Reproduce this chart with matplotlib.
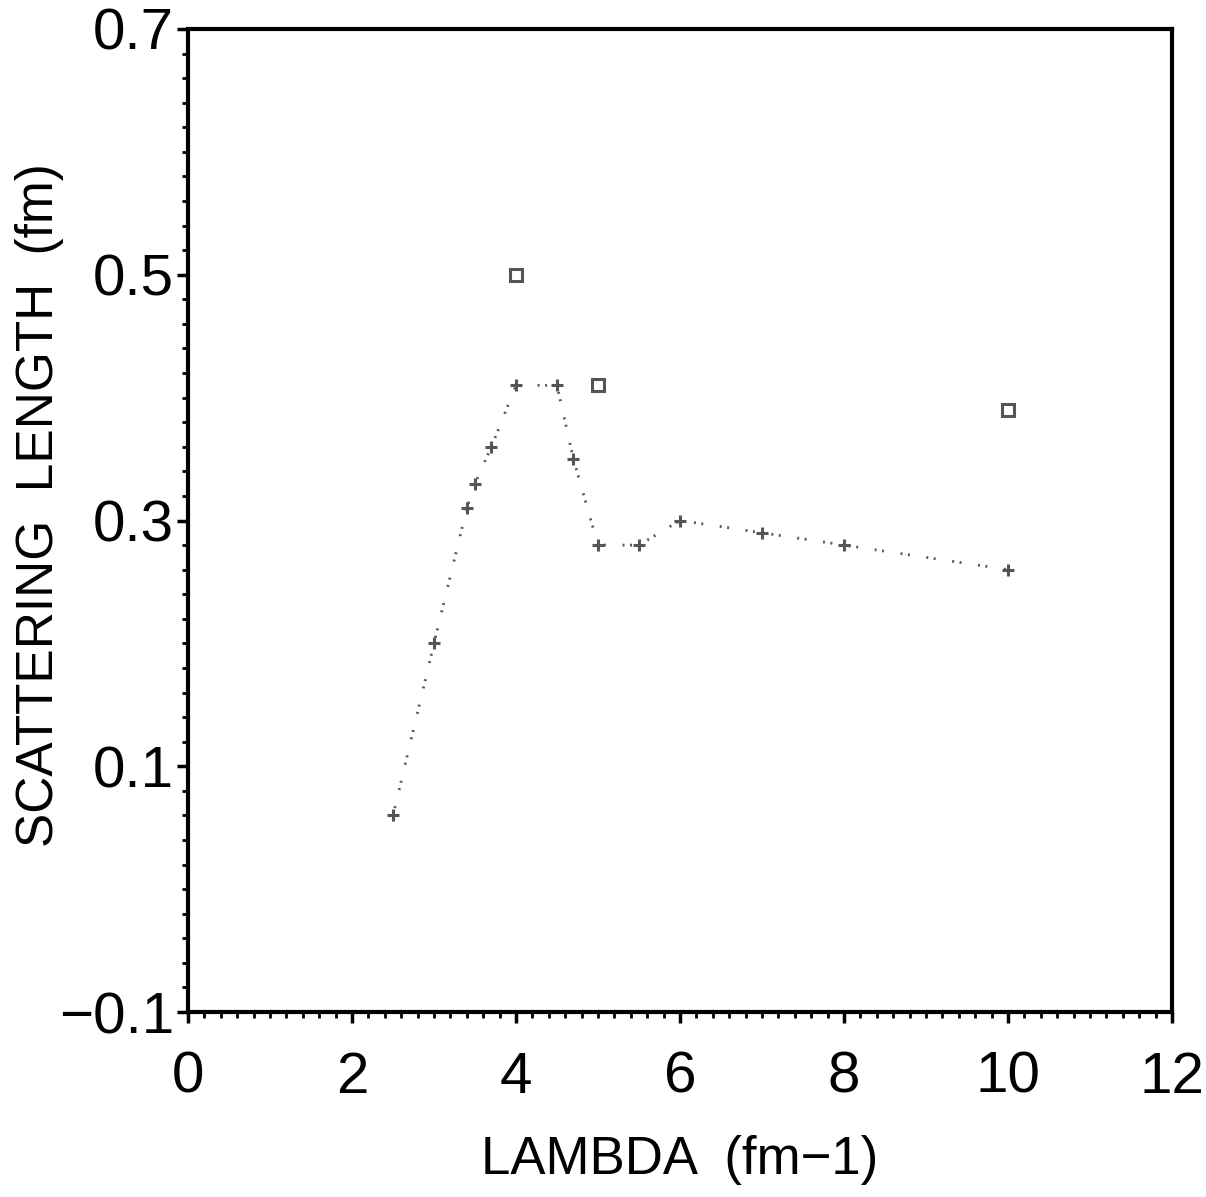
import matplotlib
matplotlib.use("Agg")
import matplotlib.pyplot as plt
from matplotlib.ticker import MultipleLocator, FixedLocator

plt.rcParams['font.family'] = ['Liberation Sans', 'DejaVu Sans']

lam_line = [2.5, 3.0, 3.4, 3.5, 3.7, 4.0, 4.5, 4.7, 5.0, 5.5, 6.0, 7.0, 8.0, 10.0]
a_line = [0.06, 0.20, 0.31, 0.33, 0.36, 0.41, 0.41, 0.35, 0.28, 0.28, 0.30, 0.29, 0.28, 0.26]
lam_sq = [4.0, 5.0, 10.0]
a_sq = [0.50, 0.41, 0.39]

xticks = [0, 2, 4, 6, 8, 10, 12]
yticks = [-0.1, 0.1, 0.3, 0.5, 0.7]
yticklabels = ['\u22120.1', '0.1', '0.3', '0.5', '0.7']

W, H = 1206, 1197
fig = plt.figure(figsize=(W/100, H/100), dpi=100)
ax = fig.add_axes([188/W, 1 - 1012/H, (1172-188)/W, (1012-29)/H])

grey = '#555555'
ax.plot(lam_line, a_line, color=grey, lw=2, linestyle=(0, (0.7, 2.0, 0.7, 6)))
ax.plot(lam_line, a_line, linestyle='none', marker='+', ms=9, mew=2.2, color=grey)
ax.plot(lam_sq, a_sq, linestyle='none', marker='s', ms=8, mfc='white', mec=grey, mew=2.2)

ax.set_xlim(0, 12)
ax.set_ylim(-0.1, 0.7)
ax.xaxis.set_major_locator(FixedLocator(xticks))
ax.set_xticklabels([str(t) for t in xticks])
ax.xaxis.set_minor_locator(MultipleLocator(0.2))
ax.yaxis.set_major_locator(FixedLocator(yticks))
ax.set_yticklabels(yticklabels)
ax.yaxis.set_minor_locator(MultipleLocator(0.02))

for s in ax.spines.values():
    s.set_linewidth(3)
ax.tick_params(which='major', direction='out', length=8, width=2.5, labelsize=42)
ax.tick_params(axis='y', which='major', pad=2)
ax.tick_params(axis='x', which='major', pad=20)
ax.tick_params(which='minor', direction='out', length=4, width=2)
ax.tick_params(top=False, right=False)

fig.text(680/W, 1 - 1160/H, 'LAMBDA  (fm\u22121)', fontsize=38, ha='center', va='center')
fig.text(40/W, 1 - 505/H, 'SCATTERING  LENGTH  (fm)', fontsize=37, ha='center', va='center', rotation=90)

fig.savefig('out.png', dpi=100)
